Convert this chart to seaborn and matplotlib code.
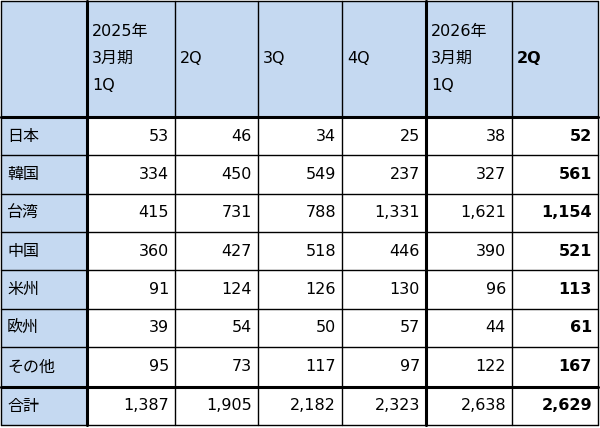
import matplotlib
matplotlib.use("Agg")
import matplotlib.pyplot as plt
import seaborn as sns

sns.set_theme(style="white")
plt.rcParams['font.family'] = ['DejaVu Sans', 'Noto Sans CJK JP']
plt.rcParams['text.color'] = 'black'

headers = ["2025年\n3月期\n1Q", "2Q", "3Q", "4Q", "2026年\n3月期\n1Q", "2Q"]
regions = ["日本", "韓国", "台湾", "中国", "米州", "欧州", "その他", "合計"]
values = [
    [53, 46, 34, 25, 38, 52],
    [334, 450, 549, 237, 327, 561],
    [415, 731, 788, 1331, 1621, 1154],
    [360, 427, 518, 446, 390, 521],
    [91, 124, 126, 130, 96, 113],
    [39, 54, 50, 57, 44, 61],
    [95, 73, 117, 97, 122, 167],
    [1387, 1905, 2182, 2323, 2638, 2629],
]

col_x = [1, 87, 175, 258, 342, 426, 512, 598]
row_y = [1, 117] + [117 + 38.3 * i for i in range(1, 8)] + [425]
row_y[8] = 387
blue = "#c5d9f1"

fig = plt.figure(figsize=(6, 4.28), dpi=100)
ax = fig.add_axes([0, 0, 1, 1])
ax.set_xlim(0, 600)
ax.set_ylim(428, 0)
ax.axis("off")

ax.fill_between([col_x[0], col_x[-1]], row_y[0], row_y[1], color=blue, lw=0)
ax.fill_between([col_x[0], col_x[1]], row_y[1], row_y[-1], color=blue, lw=0)

for x in col_x:
    lw = 2.2 if x in (87, 426) else 1
    ax.plot([x, x], [row_y[0], row_y[-1]], color="black", lw=lw)
for y in row_y:
    lw = 2.2 if y in (117, 387) else 1
    ax.plot([col_x[0], col_x[-1]], [y, y], color="black", lw=lw)

for j, h in enumerate(headers):
    ax.text(col_x[j + 1] + 5, 58, h, ha="left", va="center", fontsize=11.5,
            linespacing=2.0, color="black", fontweight="bold" if j == 5 else "normal")

for i, r in enumerate(regions):
    yc = (row_y[i + 1] + row_y[i + 2]) / 2
    ax.text(col_x[0] + 6, yc, r, ha="left", va="center", fontsize=11.5, color="black")
    for j, v in enumerate(values[i]):
        ax.text(col_x[j + 2] - 6, yc, f"{v:,}", ha="right", va="center", fontsize=11.5,
                color="black", fontweight="bold" if j == 5 else "normal")

fig.savefig("out.png", dpi=100)
